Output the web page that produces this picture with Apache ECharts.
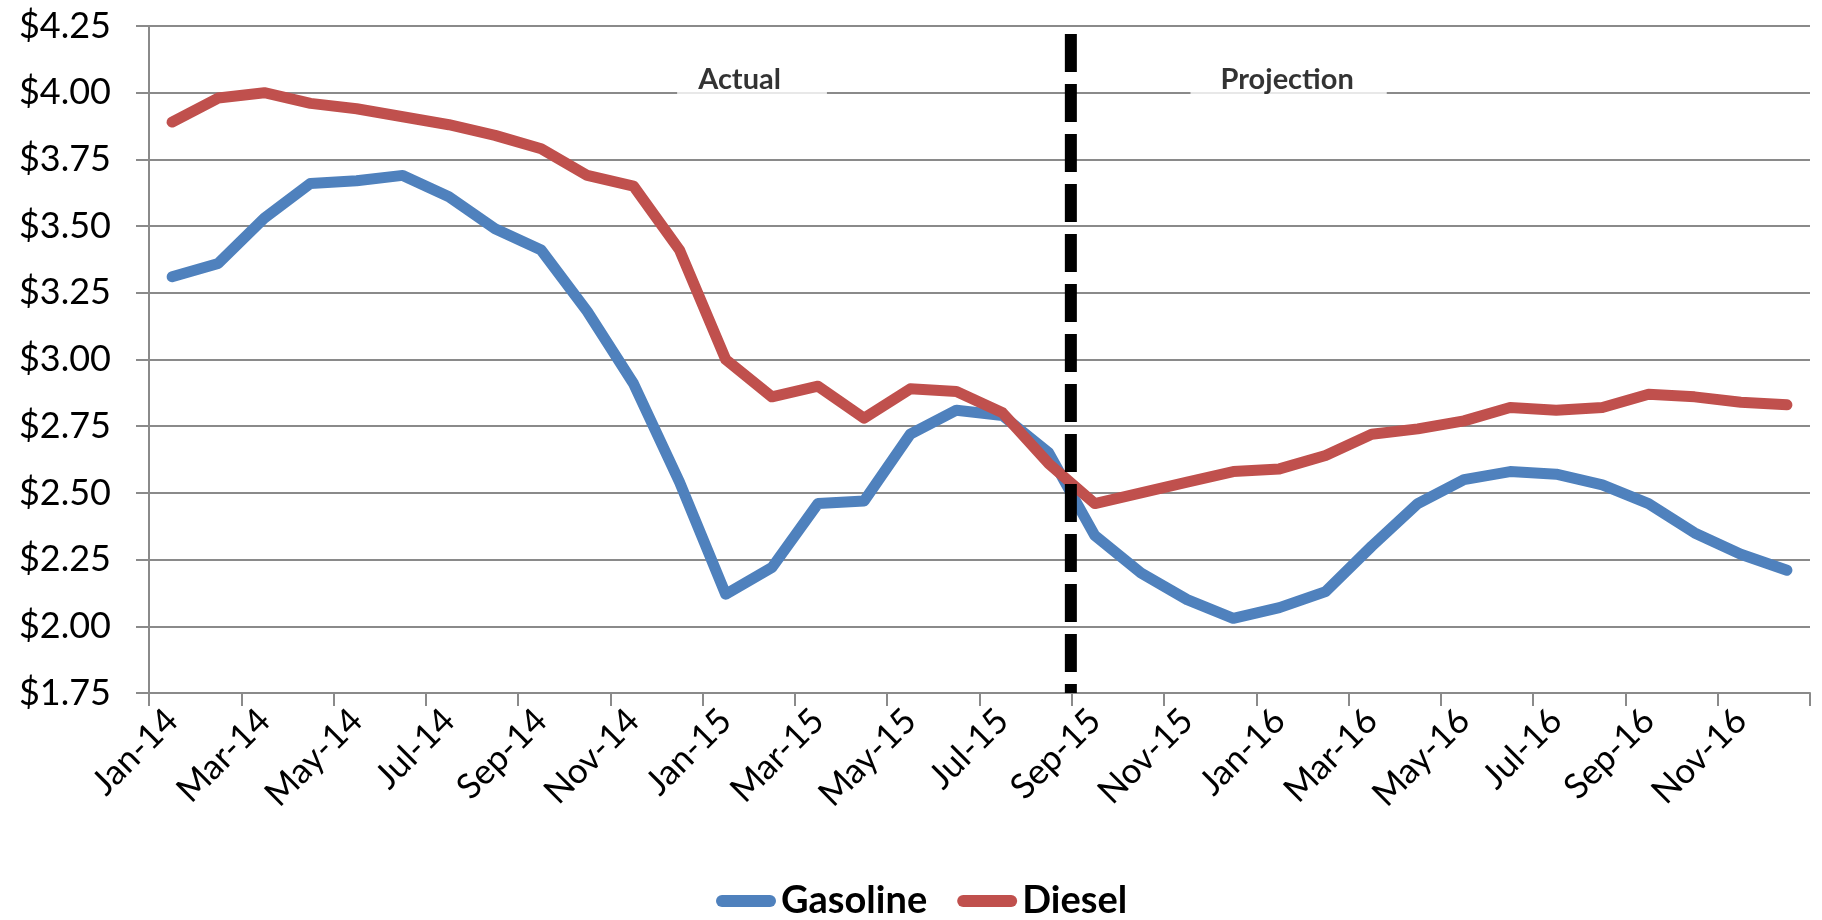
<!DOCTYPE html>
<html>
<head>
<meta charset="utf-8">
<script src="https://cdn.jsdelivr.net/npm/echarts@6/dist/echarts.min.js"></script>
<style>
  html, body { margin: 0; padding: 0; background: #fff; }
  #chart { width: 1822px; height: 920px; }
</style>
</head>
<body>
<div id="chart"></div>
<script>
// months Jan-14 .. Dec-16
const months = [
  'Jan-14', 'Feb-14', 'Mar-14', 'Apr-14', 'May-14', 'Jun-14', 'Jul-14', 'Aug-14', 'Sep-14', 'Oct-14', 'Nov-14', 'Dec-14',
  'Jan-15', 'Feb-15', 'Mar-15', 'Apr-15', 'May-15', 'Jun-15', 'Jul-15', 'Aug-15', 'Sep-15', 'Oct-15', 'Nov-15', 'Dec-15',
  'Jan-16', 'Feb-16', 'Mar-16', 'Apr-16', 'May-16', 'Jun-16', 'Jul-16', 'Aug-16', 'Sep-16', 'Oct-16', 'Nov-16', 'Dec-16',
]

// $ per gallon
const gasoline = [
  3.31, 3.36, 3.53, 3.66, 3.67, 3.69, 3.61, 3.49, 3.41, 3.18, 2.91, 2.54,
  2.12, 2.22, 2.46, 2.47, 2.72, 2.81, 2.79, 2.65, 2.34, 2.20, 2.10, 2.03,
  2.07, 2.13, 2.30, 2.46, 2.55, 2.58, 2.57, 2.53, 2.46, 2.35, 2.27, 2.21,
]
const diesel = [
  3.89, 3.98, 4.00, 3.96, 3.94, 3.91, 3.88, 3.84, 3.79, 3.69, 3.65, 3.41,
  3.00, 2.86, 2.90, 2.78, 2.89, 2.88, 2.80, 2.61, 2.46, 2.50, 2.54, 2.58,
  2.59, 2.64, 2.72, 2.74, 2.77, 2.82, 2.81, 2.82, 2.87, 2.86, 2.84, 2.83,
]

// 实际 / 预测分界（以月份格子计）
const projectionStart = 19.98
const dividerTop = 4.22
const periodLabels = ['Actual', 'Projection']
const periodLabelX = [13.07, 24.7]
const periodLabelY = 4.05
const periodLabelPadding = [[8, 46, 8, 21], [8, 33, 8, 30]]

const gridColor = '#8a8a8a'
const fontFamily = 'Lato, "Open Sans", sans-serif'

const chart = echarts.init(document.getElementById('chart'))

chart.setOption({
  animation: false,
  textStyle: { fontFamily },
  grid: { left: 149, right: 12, top: 26, bottom: 227 },
  legend: {
    data: ['Gasoline', 'Diesel'],
    left: 711,
    top: 877,
    itemWidth: 60,
    itemHeight: 12,
    itemGap: 30,
    itemTextGap: 5,
    icon: 'path://M6,0 H54 A6,6 0 0 1 54,12 H6 A6,6 0 0 1 6,0 Z',
    textStyle: { fontSize: 38, fontWeight: 'bold', color: '#000', fontFamily },
  },
  xAxis: [
    {
      type: 'category',
      data: months,
      boundaryGap: true,
      axisLine: { lineStyle: { color: gridColor, width: 2 } },
      axisTick: { show: true, interval: 1, length: 13, lineStyle: { color: gridColor, width: 2 } },
      axisLabel: { interval: 1, rotate: 45, fontSize: 35, color: '#000', margin: 22 },
    },
    {
      type: 'value',
      min: 0,
      max: months.length,
      show: false,
    },
  ],
  yAxis: {
    type: 'value',
    min: 1.75,
    max: 4.25,
    interval: 0.25,
    axisLine: { show: true, lineStyle: { color: gridColor, width: 2 } },
    axisTick: { show: true, length: 13, lineStyle: { color: gridColor, width: 2 } },
    axisLabel: {
      fontSize: 36,
      color: '#000',
      margin: 38,
      formatter: v => '$' + v.toFixed(2),
    },
    splitLine: { lineStyle: { color: gridColor, width: 2 } },
  },
  series: [
    {
      name: 'Gasoline',
      type: 'line',
      data: gasoline,
      symbol: 'none',
      color: '#4F81BD',
      lineStyle: { width: 11, color: '#4F81BD', cap: 'round', join: 'round' },
      z: 3,
    },
    {
      name: 'Diesel',
      type: 'line',
      data: diesel,
      symbol: 'none',
      color: '#C0504D',
      lineStyle: { width: 11, color: '#C0504D', cap: 'round', join: 'round' },
      z: 4,
    },
    {
      // 分界虚线
      name: 'divider',
      type: 'line',
      xAxisIndex: 1,
      data: [[projectionStart, dividerTop], [projectionStart, 1.75]],
      symbol: 'none',
      silent: true,
      lineStyle: { width: 12, color: '#000', type: [38, 12], cap: 'butt' },
      z: 5,
    },
    {
      name: 'periods',
      type: 'scatter',
      xAxisIndex: 1,
      data: periodLabels.map((t, i) => ({
        value: [periodLabelX[i], periodLabelY],
        name: t,
        label: { padding: periodLabelPadding[i] },
      })),
      symbolSize: 0,
      silent: true,
      label: {
        show: true,
        position: 'inside',
        formatter: p => p.name,
        fontSize: 29,
        fontWeight: 'bold',
        color: '#000',
        backgroundColor: '#fff',
        fontFamily,
      },
      z: 2,
    },
  ],
})
</script>
</body>
</html>
